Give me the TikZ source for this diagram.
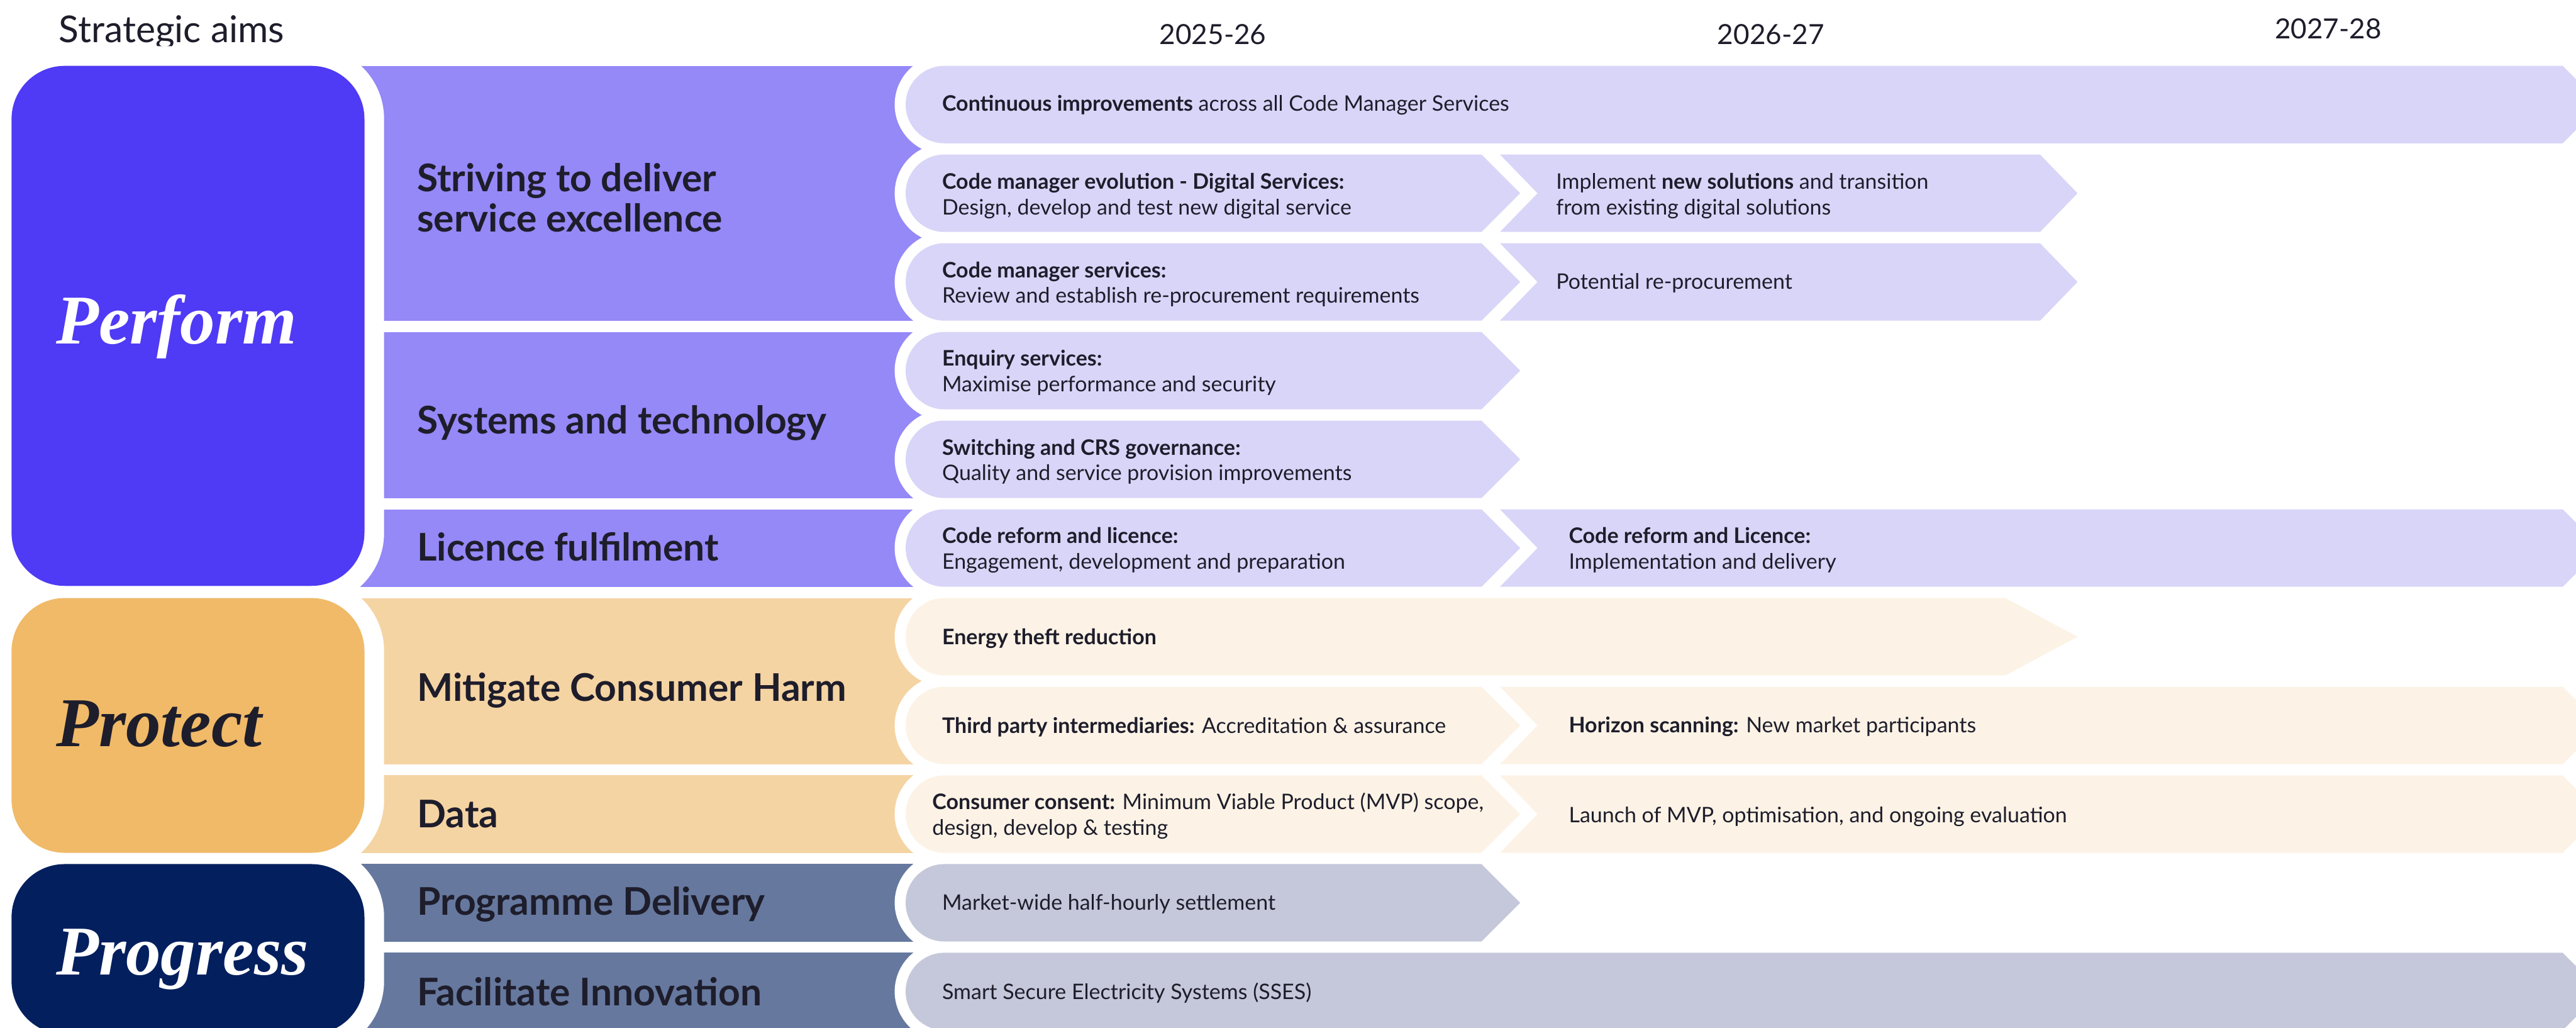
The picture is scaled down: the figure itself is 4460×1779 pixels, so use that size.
\documentclass[tikz,border=0pt]{standalone}
\usepackage{fontspec}
\setmainfont{Lato}
\newfontfamily\aimfont{Liberation Serif}

\definecolor{ink}{RGB}{30,29,43}
\definecolor{performDark}{RGB}{79,58,245}
\definecolor{performMid}{RGB}{149,136,247}
\definecolor{performLight}{RGB}{217,213,248}
\definecolor{protectDark}{RGB}{240,186,104}
\definecolor{protectMid}{RGB}{245,212,163}
\definecolor{protectLight}{RGB}{252,243,230}
\definecolor{progressDark}{RGB}{3,31,94}
\definecolor{progressMid}{RGB}{102,120,158}
\definecolor{progressLight}{RGB}{197,200,218}

% first activity of a row: round left end, arrow on the right
% #1 style, #2 top, #3 end of flat part, #4 tip
\newcommand{\startpill}[4]{%
  \path[#1] (1635,#2) -- (#3,#2) -- (#4,#2+67) -- (#3,#2+134) -- (1635,#2+134)
    arc[start angle=270, end angle=90, radius=67pt] -- cycle;}
% following activity: notched left end
% #1 style, #2 top, #3 left, #4 end of flat part, #5 tip
\newcommand{\nextpill}[5]{%
  \path[#1] (#3,#2) -- (#4,#2) -- (#5,#2+67) -- (#4,#2+134) -- (#3,#2+134)
    -- (#3+65,#2+67) -- cycle;}

\begin{document}
\begin{tikzpicture}[x=1pt, y=-1pt,
  halo/.style={preaction={draw=white, line width=38pt, line join=round}},
  aimhalo/.style={draw=white, line width=68pt, rounded corners=92pt},
  aimbox/.style={rounded corners=92pt},
  aimlabel/.style={anchor=base west, inner sep=0pt, font=\aimfont\bfseries\itshape\fontsize{121}{121}\selectfont},
  heading/.style={anchor=west, align=left, inner sep=0pt, text=ink, font=\bfseries\fontsize{66}{69}\selectfont},
  act/.style={anchor=west, align=left, inner sep=0pt, text=ink, font=\fontsize{37}{44}\selectfont},
  year/.style={anchor=base, inner sep=0pt, text=ink, font=\fontsize{48}{48}\selectfont}]

\useasboundingbox (0,0) rectangle (4460,1779);

% headers
\node[anchor=base west, inner sep=0pt, text=ink, font=\fontsize{64}{64}\selectfont] (aims) at (102,73) {Strategic aims};
\node[year] (y1) at (2100,77) {2025-26};
\node[year] (y2) at (3066,77) {2026-27};
\node[year] (y3) at (4031,67) {2027-28};

% sub-aim bands, partly covered by the boxes on either side
\path[fill=performMid] (560,114) rectangle (1700,555);
\path[fill=performMid] (560,574.5) rectangle (1700,862);
\path[fill=performMid] (560,881.5) rectangle (1700,1015.5);
\path[fill=protectMid] (560,1035) rectangle (1700,1322.5);
\path[fill=protectMid] (560,1342) rectangle (1700,1476);
\path[fill=progressMid] (560,1495.5) rectangle (1700,1629.5);
\path[fill=progressMid] (560,1649) rectangle (1700,1783);

% strategic aims
\foreach \t/\b in {114/1014, 1035/1476, 1495.5/1790}
  \path[aimhalo] (20,\t) rectangle (631,\b);
\path[aimbox, fill=performDark] (20,114) rectangle (631,1014);
\path[aimbox, fill=protectDark] (20,1035) rectangle (631,1476);
\path[aimbox, fill=progressDark] (20,1495.5) rectangle (631,1790);

\node[aimlabel, text=white] (perform) at (97,595) {Perform};
\node[aimlabel, text=ink] (protect) at (97,1292) {Protect};
\node[aimlabel, text=white] (progress) at (97,1687) {Progress};

\node[heading] (striving) at (722,342) {Striving to deliver\\service excellence};
\node[heading] (systems) at (722,732) {Systems and technology};
\node[heading] (licence) at (722,946) {Licence fulfilment};
\node[heading] (harm) at (722,1195) {Mitigate Consumer Harm};
\node[heading] (data) at (722,1409) {Data};
\node[heading] (delivery) at (722,1565) {Programme Delivery};
\node[heading] (innovation) at (722,1716) {Facilitate Innovation};

% activities
\startpill{halo, fill=performLight}{114}{4437}{4504}
\startpill{halo, fill=performLight}{267.5}{2565}{2632}
\nextpill{halo, fill=performLight}{267.5}{2597}{3532}{3597}
\startpill{halo, fill=performLight}{421}{2565}{2632}
\nextpill{halo, fill=performLight}{421}{2597}{3532}{3597}
\startpill{halo, fill=performLight}{574.5}{2565}{2632}
\startpill{halo, fill=performLight}{728}{2565}{2632}
\startpill{halo, fill=performLight}{881.5}{2565}{2632}
\nextpill{halo, fill=performLight}{881.5}{2597}{4437}{4504}
\startpill{halo, fill=protectLight}{1035}{3472}{3597}
\startpill{halo, fill=protectLight}{1188.5}{2565}{2632}
\nextpill{halo, fill=protectLight}{1188.5}{2597}{4437}{4504}
\startpill{halo, fill=protectLight}{1342}{2565}{2632}
\nextpill{halo, fill=protectLight}{1342}{2597}{4437}{4504}
\startpill{halo, fill=progressLight}{1495.5}{2565}{2632}
\startpill{halo, fill=progressLight}{1649}{4437}{4504}

\node[act] (improve) at (1631,182) {\textbf{Continuous improvements} across all Code Manager Services};
\node[act] (evolution) at (1631,339) {\textbf{Code manager evolution - Digital Services:}\\Design, develop and test new digital service};
\node[act] (solutions) at (2694,339) {Implement \textbf{new solutions} and transition\\from existing digital solutions};
\node[act] (cmservices) at (1631,492) {\textbf{Code manager services:}\\Review and establish re-procurement requirements};
\node[act] (reprocure) at (2694,490) {Potential re-procurement};
\node[act] (enquiry) at (1631,645) {\textbf{Enquiry services:}\\Maximise performance and security};
\node[act] (switching) at (1631,799) {\textbf{Switching and CRS governance:}\\Quality and service provision improvements};
\node[act] (reform) at (1631,952) {\textbf{Code reform and licence:}\\Engagement, development and preparation};
\node[act] (reformnext) at (2716,952) {\textbf{Code reform and Licence:}\\Implementation and delivery};
\node[act] (theft) at (1631,1105) {\textbf{Energy theft reduction}};
\node[act] (tpi) at (1631,1258) {\textbf{Third party intermediaries:} Accreditation \& assurance};
\node[act] (horizon) at (2716,1258) {\textbf{Horizon scanning:} New market participants};
\node[act] (consent) at (1614,1412) {\textbf{Consumer consent:} Minimum Viable Product (MVP) scope,\\design, develop \& testing};
\node[act] (mvp) at (2716,1413) {Launch of MVP, optimisation, and ongoing evaluation};
\node[act] (mhhs) at (1631,1565) {Market-wide half-hourly settlement};
\node[act] (sses) at (1631,1718) {Smart Secure Electricity Systems (SSES)};

\end{tikzpicture}
\end{document}
